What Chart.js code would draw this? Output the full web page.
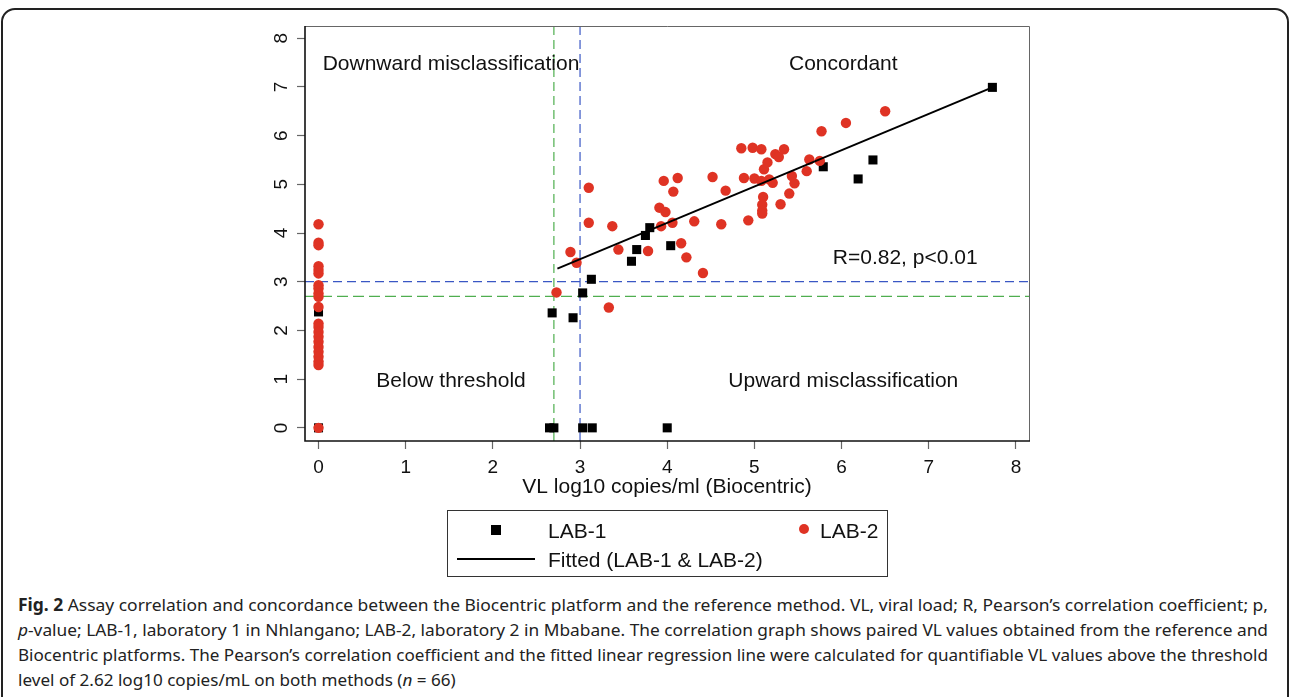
<!DOCTYPE html>
<html>
<head>
<meta charset="utf-8">
<script src="https://cdn.jsdelivr.net/npm/chart.js@4/dist/chart.umd.min.js"></script>
<style>
  body { margin: 0; background: #fff; font-family: "Liberation Sans", Arial, sans-serif; color: #111; }
  #wrap { position: relative; width: 1290px; height: 697px; overflow: hidden; }
  #frame { position: absolute; left: 1px; top: 8px; width: 1284px; height: 760px; border: 2px solid #222; border-radius: 14px; }
  #chart { position: absolute; left: 0; top: 0; }
  #legend { position: absolute; left: 447px; top: 510px; width: 439px; height: 65px; border: 1px solid #333; font-size: 21px; }
  #legend div { position: absolute; white-space: nowrap; line-height: 24px; }
  #caption { position: absolute; left: 18px; top: 592px; font-family: "Noto Sans", sans-serif; font-size: 17px; line-height: 25px; color: #222; }
  #caption .cl { display: block; white-space: nowrap; transform-origin: 0 0; width: max-content; }
</style>
</head>
<body>
<div id="wrap">
  <div id="frame"></div>
  <canvas id="chart" width="1290" height="520"></canvas>
  <div id="legend"></div>
  <div id="caption">
    <span class="cl"><b>Fig. 2</b> Assay correlation and concordance between the Biocentric platform and the reference method. VL, viral load; R, Pearson’s correlation coefficient; p,</span>
    <span class="cl"><i>p</i>-value; LAB-1, laboratory 1 in Nhlangano; LAB-2, laboratory 2 in Mbabane. The correlation graph shows paired VL values obtained from the reference and</span>
    <span class="cl">Biocentric platforms. The Pearson’s correlation coefficient and the fitted linear regression line were calculated for quantifiable VL values above the threshold</span>
    <span class="cl">level of 2.62 log10 copies/mL on both methods (<i>n</i> = 66)</span>
  </div>
</div>
<script>
// ticks
var xTicks = [0, 1, 2, 3, 4, 5, 6, 7, 8];
var yTicks = [0, 1, 2, 3, 4, 5, 6, 7, 8];

// LAB-1 (black squares)
var lab1X = [0, 0, 0, 0, 0, 0,
  2.65, 2.70, 3.03, 3.14, 4.00,
  2.68, 2.92, 3.03, 3.13, 3.59, 3.65, 3.75, 3.80, 4.04,
  5.79, 6.19, 6.36, 7.73];
var lab1Y = [0, 1.35, 1.55, 1.75, 1.95, 2.38,
  0, 0, 0, 0, 0,
  2.36, 2.26, 2.77, 3.05, 3.42, 3.66, 3.95, 4.11, 3.74,
  5.36, 5.11, 5.50, 6.99];

// LAB-2 (red dots)
var lab2X = [0, 0, 0, 0, 0, 0, 0, 0, 0, 0, 0, 0, 0, 0, 0, 0, 0, 0, 0, 0, 0, 0,
  2.73, 2.89, 2.96, 3.10, 3.10, 3.37, 3.33, 3.44, 3.78, 3.91,
  3.98, 3.93, 4.06, 3.96, 4.12, 4.07, 4.16, 4.22, 4.31, 4.41,
  4.52, 4.67, 4.62, 4.93, 4.85, 4.98, 5.08, 4.88, 5.00, 5.08,
  5.17, 5.21, 5.10, 5.09, 5.09, 5.09, 5.30, 5.40, 5.46, 5.43,
  5.60, 5.11, 5.15, 5.24, 5.28, 5.34, 5.63, 5.75, 5.77, 6.05, 6.50];
var lab2Y = [4.18, 3.80, 3.75, 3.32, 3.24, 3.17, 2.93, 2.86, 2.76, 2.69, 2.48,
  2.14, 2.07, 1.97, 1.87, 1.77, 1.66, 1.56, 1.46, 1.36, 1.29, 0,
  2.78, 3.61, 3.39, 4.93, 4.21, 4.14, 2.47, 3.66, 3.63, 4.52,
  4.43, 4.14, 4.21, 5.07, 5.13, 4.85, 3.79, 3.50, 4.24, 3.18,
  5.15, 4.87, 4.18, 4.26, 5.74, 5.75, 5.72, 5.13, 5.12, 5.07,
  5.10, 5.03, 4.74, 4.58, 4.46, 4.40, 4.59, 4.81, 5.02, 5.17,
  5.27, 5.31, 5.45, 5.62, 5.56, 5.72, 5.51, 5.48, 6.09, 6.26, 6.50];

// fitted line ends
var fitX = [2.74, 7.73];
var fitY = [3.27, 6.99];

// threshold lines
var cutBlue = 3.0;
var cutGreen = 2.7;

// quadrant notes
var noteText = ["Downward misclassification", "Concordant", "Below threshold", "Upward misclassification", "R=0.82, p<0.01"];
var noteX = [1.52, 6.02, 1.52, 6.02, 6.73];
var noteY = [7.47, 7.47, 0.96, 0.96, 3.48];

var xMin = -0.155, xMax = 8.15, yMin = -0.27, yMax = 8.25;
var RED = "#df3324", BLUE = "#3a57c4", GREEN = "#4fae4f";
var FONT = "'Liberation Sans', Arial, sans-serif";

function pts(xs, ys) {
  return xs.map(function(x, i) { return { x: x, y: ys[i] }; });
}

function dashed(data, color, dash) {
  return { data: data, borderColor: color, borderWidth: 1.2, borderDash: dash,
    showLine: true, pointRadius: 0, fill: false };
}

var extras = {
  id: "extras",
  afterDatasetsDraw: function(chart) {
    var ctx = chart.ctx, a = chart.chartArea;
    var sx = chart.scales.x, sy = chart.scales.y;
    ctx.save();
    // frame
    ctx.strokeStyle = "#666";
    ctx.lineWidth = 1;
    ctx.beginPath();
    ctx.moveTo(a.left, a.top + 0.5);
    ctx.lineTo(a.right + 0.5, a.top + 0.5);
    ctx.lineTo(a.right + 0.5, a.bottom);
    ctx.stroke();
    ctx.strokeStyle = "#111";
    ctx.lineWidth = 1.6;
    ctx.beginPath();
    ctx.moveTo(a.left, a.top);
    ctx.lineTo(a.left, a.bottom);
    ctx.lineTo(a.right + 1, a.bottom);
    ctx.stroke();
    // notes
    ctx.fillStyle = "#111";
    ctx.font = "21px " + FONT;
    ctx.textAlign = "center";
    ctx.textBaseline = "middle";
    for (var i = 0; i < noteText.length; i++) {
      ctx.fillText(noteText[i], sx.getPixelForValue(noteX[i]), sy.getPixelForValue(noteY[i]));
    }
    ctx.restore();
  }
};

var tickGrid = { drawOnChartArea: false, drawTicks: true, tickLength: 8, tickColor: "#666", tickWidth: 1.2 };

var chart = new Chart(document.getElementById("chart"), {
  type: "scatter",
  data: {
    datasets: [
      { label: "Fitted (LAB-1 & LAB-2)", data: pts(fitX, fitY), borderColor: "#000", borderWidth: 2,
        showLine: true, pointRadius: 0, fill: false },
      { label: "LAB-2", data: pts(lab2X, lab2Y), backgroundColor: RED, borderColor: RED, borderWidth: 0,
        pointStyle: "circle", pointRadius: 5.2 },
      { label: "LAB-1", data: pts(lab1X, lab1Y), backgroundColor: "#000", borderColor: "#000", borderWidth: 0,
        pointStyle: "rect", pointRadius: 6.4 },
      dashed([{ x: cutBlue, y: yMin }, { x: cutBlue, y: yMax }], BLUE, [9, 5]),
      dashed([{ x: xMin, y: cutBlue }, { x: xMax, y: cutBlue }], BLUE, [9, 5]),
      dashed([{ x: cutGreen, y: yMin }, { x: cutGreen, y: yMax }], GREEN, [9, 5]),
      dashed([{ x: xMin, y: cutGreen }, { x: xMax, y: cutGreen }], GREEN, [11, 5])
    ]
  },
  options: {
    responsive: false,
    animation: false,
    layout: { padding: { left: 260, right: 261, top: 26, bottom: 19 } },
    plugins: { legend: { display: false }, tooltip: { enabled: false } },
    scales: {
      x: {
        type: "linear", min: xMin, max: xMax,
        afterBuildTicks: function(s) { s.ticks = xTicks.map(function(v) { return { value: v }; }); },
        afterFit: function(s) { s.height = 60; },
        grid: tickGrid,
        border: { display: false },
        ticks: { font: { size: 19, family: FONT }, color: "#111", padding: 7, maxRotation: 0, autoSkip: false },
        title: { display: true, text: "VL log10 copies/ml (Biocentric)", color: "#111",
          font: { size: 21, family: FONT }, padding: { top: 0, bottom: 1.5 } }
      },
      y: {
        type: "linear", min: yMin, max: yMax,
        afterBuildTicks: function(s) { s.ticks = yTicks.map(function(v) { return { value: v }; }); },
        afterFit: function(s) { s.width = 45; },
        grid: tickGrid,
        border: { display: false },
        ticks: { font: { size: 19, family: FONT }, color: "#111", padding: 10, minRotation: 90, maxRotation: 90,
          crossAlign: "center", autoSkip: false }
      }
    }
  },
  plugins: [extras]
});

// legend
var legend = document.getElementById("legend");
legend.innerHTML =
  '<div style="left:43px;top:14px;width:10px;height:10px;background:#000"></div>' +
  '<div style="left:100px;top:8px">LAB-1</div>' +
  '<div style="left:351px;top:13px;width:10px;height:10px;border-radius:50%;background:' + RED + '"></div>' +
  '<div style="left:372px;top:8px">LAB-2</div>' +
  '<div style="left:9px;top:47px;width:78px;height:2px;background:#000"></div>' +
  '<div style="left:100px;top:37px">Fitted (LAB-1 &amp; LAB-2)</div>';

// caption: stretch the justified lines to the column width
var lines = document.querySelectorAll("#caption .cl");
var target = 1250, lastScale = 1;
for (var i = 0; i < lines.length; i++) {
  var w = lines[i].getBoundingClientRect().width;
  var k = i < 3 ? target / w : lastScale;
  lines[i].style.transform = "scaleX(" + k + ")";
  lastScale = k;
}
</script>
</body>
</html>
